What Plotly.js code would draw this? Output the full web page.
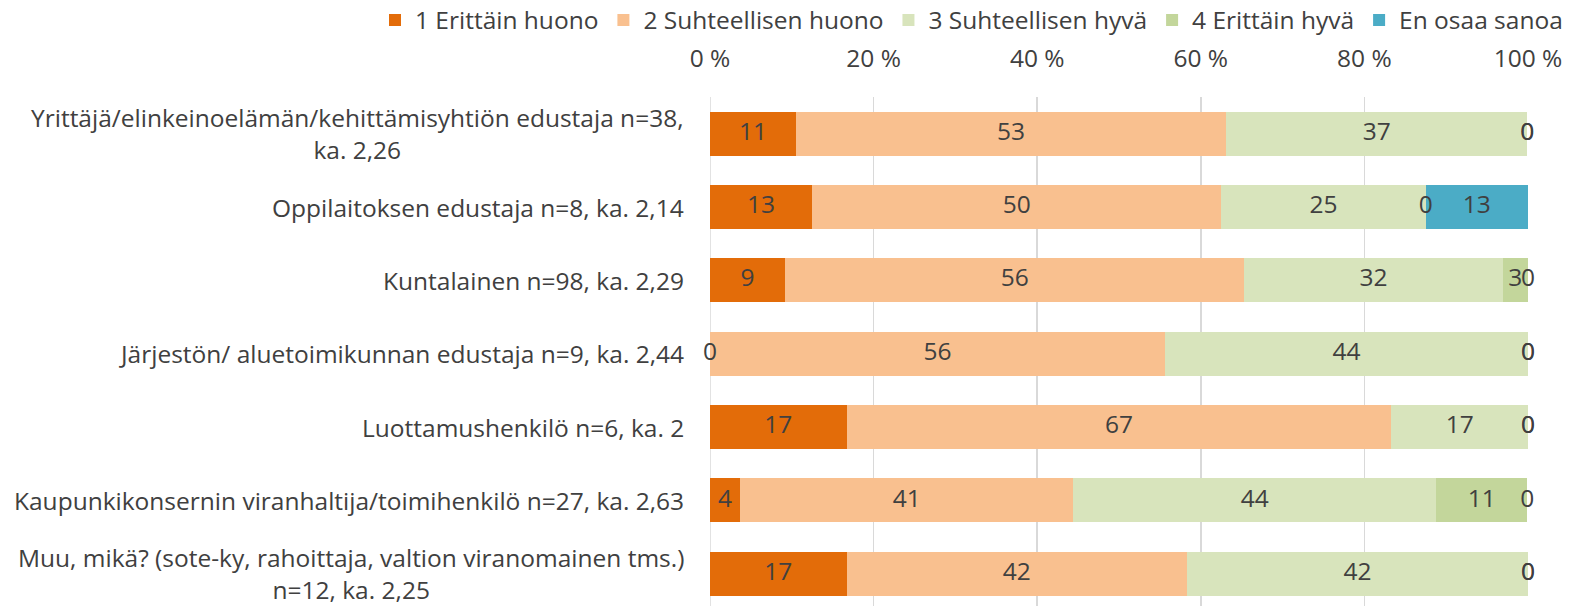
<!DOCTYPE html>
<html>
<head>
<meta charset="utf-8">
<script src="https://cdn.plot.ly/plotly-3.0.1.min.js"></script>
<style>html,body{margin:0;padding:0;background:#fff;}#chart{width:1572px;height:606px;}</style>
</head>
<body>
<div id="chart"></div>
<script>
const categories = [
  "Yrittäjä/elinkeinoelämän/kehittämisyhtiön edustaja n=38,<br>ka. 2,26",
  "Oppilaitoksen edustaja n=8, ka. 2,14",
  "Kuntalainen n=98, ka. 2,29",
  "Järjestön/ aluetoimikunnan edustaja n=9, ka. 2,44",
  "Luottamushenkilö n=6, ka. 2",
  "Kaupunkikonsernin viranhaltija/toimihenkilö n=27, ka. 2,63",
  "Muu, mikä? (sote-ky, rahoittaja, valtion viranomainen tms.)<br>n=12, ka. 2,25"
];
const seriesNames = ["1 Erittäin huono", "2 Suhteellisen huono", "3 Suhteellisen hyvä", "4 Erittäin hyvä", "En osaa sanoa"];
const s1 = [10.5, 12.5, 9.2, 0, 16.7, 3.7, 16.7];
const s2 = [52.6, 50.0, 56.1, 55.6, 66.6, 40.7, 41.6];
const s3 = [36.8, 25.0, 31.6, 44.4, 16.7, 44.4, 41.7];
const s4 = [0, 0, 3.1, 0, 0, 11.1, 0];
const s5 = [0, 12.5, 0, 0, 0, 0, 0];
const tickVals = [0, 20, 40, 60, 80, 100];
const tickText = ["0 %", "20 %", "40 %", "60 %", "80 %", "100 %"];

const colors = ["#E36C09", "#F9C08F", "#D8E4BC", "#C3D69B", "#4BACC6"];
const series = [s1, s2, s3, s4, s5];
const FONT = "'Open Sans', Roboto, sans-serif";
const FS = 24.5;
const TXT = "#404040";
const yIdx = categories.map((c, i) => i);

const traces = [];
series.forEach((vals, k) => {
  traces.push({
    type: "bar", orientation: "h", name: seriesNames[k],
    x: vals, y: yIdx,
    marker: {color: colors[k], line: {width: 0}},
    hoverinfo: "x+name"
  });
});
// data labels at segment centres
const cum = categories.map(() => 0);
series.forEach((vals, k) => {
  const xs = [], ys = [], ts = [];
  vals.forEach((v, i) => {
    xs.push(Math.min(100, cum[i] + v / 2)); ys.push(i); ts.push(String(Math.round(v)));
    cum[i] += v;
  });
  traces.push({
    type: "scatter", mode: "text", x: xs, y: ys, text: ts,
    textposition: "middle center", showlegend: false, hoverinfo: "skip",
    textfont: {family: FONT, size: FS, color: TXT}, cliponaxis: false
  });
});

const annotations = categories.map((c, i) => ({
  xref: "paper", yref: "y", x: 0, y: i, xanchor: "right", yanchor: "middle",
  xshift: -24, align: "center", showarrow: false, text: c,
  font: {family: FONT, size: FS, color: TXT}
}));

const layout = {
  width: 1572, height: 606,
  margin: {l: 710, r: 44, t: 97, b: 0, autoexpand: false},
  paper_bgcolor: "#fff", plot_bgcolor: "#fff",
  barmode: "stack", bargap: 0.4,
  font: {family: FONT, size: FS, color: TXT},
  showlegend: true,
  legend: {orientation: "h", xref: "paper", yref: "paper",
           x: (375 - 710) / 818, xanchor: "left", y: (606 - 20) / 509, yanchor: "middle",
           font: {family: FONT, size: FS, color: TXT}, traceorder: "normal",
           itemwidth: 30, bgcolor: "rgba(0,0,0,0)"},
  xaxis: {side: "top", range: [0, 100], tickvals: tickVals, ticktext: tickText,
          showgrid: true, gridcolor: "#D9D9D9", gridwidth: 1.5, zeroline: false,
          showline: false, ticks: "", ticklabelstandoff: 24, fixedrange: true,
          automargin: false, tickfont: {family: FONT, size: FS, color: TXT}},
  yaxis: {range: [6.44, -0.5], showticklabels: false, showgrid: false, zeroline: false,
          showline: false, ticks: "", fixedrange: true, automargin: false},
  shapes: [{type: "line", xref: "x", yref: "paper", x0: 0, x1: 0, y0: 0, y1: 1,
            line: {color: "#D9D9D9", width: 1.5}, layer: "below"}],
  annotations: annotations
};
Plotly.newPlot("chart", traces, layout, {displayModeBar: false, staticPlot: true});
</script>
</body>
</html>
